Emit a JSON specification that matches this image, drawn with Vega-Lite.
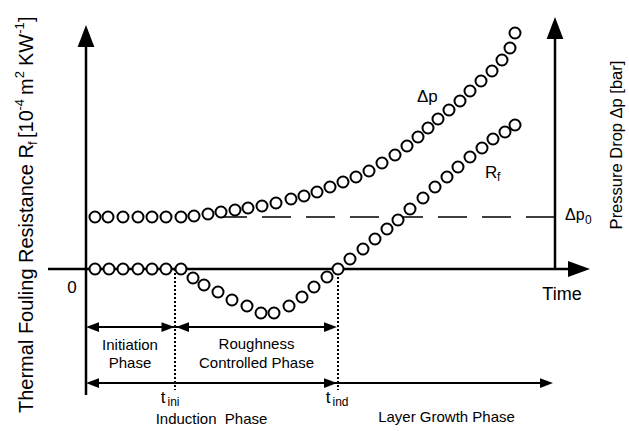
{
  "$schema": "https://vega.github.io/schema/vega-lite/v6.json",
  "width": 629,
  "height": 431,
  "autosize": {"type": "fit", "contains": "padding"},
  "padding": 0,
  "background": "white",
  "config": {"view": {"stroke": null}, "text": {"font": "Liberation Sans", "color": "black"}},
  "datasets": {
    "pts": [
      {"series": "dp", "t": 0.9, "v": 5.2}, {"series": "dp", "t": 2.2, "v": 5.2}, {"series": "dp", "t": 3.7, "v": 5.2},
      {"series": "dp", "t": 5.2, "v": 5.2}, {"series": "dp", "t": 6.6, "v": 5.2}, {"series": "dp", "t": 8.0, "v": 5.2},
      {"series": "dp", "t": 9.5, "v": 5.2}, {"series": "dp", "t": 10.8, "v": 5.3}, {"series": "dp", "t": 12.2, "v": 5.5},
      {"series": "dp", "t": 13.5, "v": 5.7}, {"series": "dp", "t": 14.9, "v": 5.9}, {"series": "dp", "t": 16.2, "v": 6.1},
      {"series": "dp", "t": 17.6, "v": 6.3}, {"series": "dp", "t": 19.0, "v": 6.6}, {"series": "dp", "t": 20.5, "v": 7.0},
      {"series": "dp", "t": 21.8, "v": 7.3}, {"series": "dp", "t": 23.1, "v": 7.7}, {"series": "dp", "t": 24.4, "v": 8.2},
      {"series": "dp", "t": 25.7, "v": 8.7}, {"series": "dp", "t": 27.0, "v": 9.2}, {"series": "dp", "t": 28.3, "v": 9.8},
      {"series": "dp", "t": 29.6, "v": 10.6}, {"series": "dp", "t": 30.9, "v": 11.4}, {"series": "dp", "t": 32.1, "v": 12.3},
      {"series": "dp", "t": 33.2, "v": 13.2}, {"series": "dp", "t": 34.2, "v": 14.1}, {"series": "dp", "t": 35.2, "v": 15.0},
      {"series": "dp", "t": 36.3, "v": 15.9}, {"series": "dp", "t": 37.4, "v": 16.8}, {"series": "dp", "t": 38.4, "v": 17.8},
      {"series": "dp", "t": 39.5, "v": 18.8}, {"series": "dp", "t": 40.6, "v": 19.8}, {"series": "dp", "t": 41.6, "v": 20.9},
      {"series": "dp", "t": 42.4, "v": 22.1}, {"series": "dp", "t": 42.9, "v": 23.6},
      {"series": "rf", "t": 0.9, "v": 0}, {"series": "rf", "t": 2.3, "v": 0}, {"series": "rf", "t": 3.7, "v": 0},
      {"series": "rf", "t": 5.2, "v": 0}, {"series": "rf", "t": 6.6, "v": 0}, {"series": "rf", "t": 8.0, "v": 0},
      {"series": "rf", "t": 9.5, "v": 0}, {"series": "rf", "t": 10.7, "v": -0.9}, {"series": "rf", "t": 11.8, "v": -1.6},
      {"series": "rf", "t": 13.2, "v": -2.3}, {"series": "rf", "t": 14.6, "v": -3.1}, {"series": "rf", "t": 16.1, "v": -3.7},
      {"series": "rf", "t": 17.5, "v": -4.4}, {"series": "rf", "t": 18.8, "v": -4.4}, {"series": "rf", "t": 20.3, "v": -3.7},
      {"series": "rf", "t": 21.6, "v": -2.8}, {"series": "rf", "t": 22.8, "v": -1.8}, {"series": "rf", "t": 24.1, "v": -0.8},
      {"series": "rf", "t": 25.2, "v": 0}, {"series": "rf", "t": 26.4, "v": 1.0}, {"series": "rf", "t": 27.7, "v": 2.0},
      {"series": "rf", "t": 28.9, "v": 3.0}, {"series": "rf", "t": 30.1, "v": 4.0}, {"series": "rf", "t": 31.2, "v": 4.9},
      {"series": "rf", "t": 32.4, "v": 6.0}, {"series": "rf", "t": 33.7, "v": 7.1}, {"series": "rf", "t": 34.9, "v": 8.2},
      {"series": "rf", "t": 36.1, "v": 9.2}, {"series": "rf", "t": 37.2, "v": 10.2}, {"series": "rf", "t": 38.4, "v": 11.2},
      {"series": "rf", "t": 39.6, "v": 12.1}, {"series": "rf", "t": 40.7, "v": 13.0}, {"series": "rf", "t": 41.9, "v": 13.7},
      {"series": "rf", "t": 42.9, "v": 14.4}
    ],
    "segs": [
      {"kind": "axis", "t": 0, "v": -12.6, "t2": 0, "v2": 22.9},
      {"kind": "axis", "t": 46.9, "v": 0, "t2": 46.9, "v2": 23.7},
      {"kind": "axis", "t": -3.8, "v": 0, "t2": 48.9, "v2": 0},
      {"kind": "dashed", "t": 13.2, "v": 5.2, "t2": 46.9, "v2": 5.2},
      {"kind": "dotted", "t": 8.9, "v": 0, "t2": 8.9, "v2": -12.1},
      {"kind": "dotted", "t": 25.2, "v": 0, "t2": 25.2, "v2": -12.1},
      {"kind": "phase", "t": 0.5, "v": -5.8, "t2": 24.6, "v2": -5.8},
      {"kind": "phase", "t": 0.5, "v": -11.4, "t2": 46.2, "v2": -11.4}
    ],
    "heads": [
      {"kind": "axis", "dir": "right", "t": 50.4, "v": 0},
      {"kind": "axis", "dir": "up", "t": 0, "v": 24.4},
      {"kind": "axis", "dir": "up", "t": 46.9, "v": 25.2},
      {"kind": "phase", "dir": "left", "t": 0, "v": -5.8},
      {"kind": "phase", "dir": "right", "t": 8.85, "v": -5.8},
      {"kind": "phase", "dir": "left", "t": 9.0, "v": -5.8},
      {"kind": "phase", "dir": "right", "t": 25.1, "v": -5.8},
      {"kind": "phase", "dir": "left", "t": 0, "v": -11.4},
      {"kind": "phase", "dir": "right", "t": 25.1, "v": -11.4},
      {"kind": "phase", "dir": "right", "t": 46.7, "v": -11.4}
    ],
    "labels": [
      {"role": "main", "text": "0", "t": -1.4, "v": -2.4, "align": "center"},
      {"role": "time", "text": "Time", "t": 47.6, "v": -3.1, "align": "center"},
      {"role": "sym", "text": "Δp", "t": 47.9, "v": 4.9, "align": "left"},
      {"role": "sub", "text": "0", "t": 49.9, "v": 4.5, "align": "left"},
      {"role": "curve", "text": "Δp", "t": 33.1, "v": 16.7, "align": "left"},
      {"role": "curve", "text": "R", "t": 39.9, "v": 9.1, "align": "left"},
      {"role": "sub", "text": "f", "t": 41.1, "v": 8.8, "align": "left"},
      {"role": "main", "text": "t", "t": 7.7, "v": -13.4, "align": "left"},
      {"role": "sub", "text": "ini", "t": 8.15, "v": -13.7, "align": "left"},
      {"role": "main", "text": "t", "t": 24.2, "v": -13.4, "align": "left"},
      {"role": "sub", "text": "ind", "t": 24.65, "v": -13.7, "align": "left"},
      {"role": "phase", "text": "Initiation", "t": 4.4, "v": -8.1, "align": "center"},
      {"role": "phase", "text": "Phase", "t": 4.4, "v": -9.9, "align": "center"},
      {"role": "phase", "text": "Roughness", "t": 17.05, "v": -8.0, "align": "center"},
      {"role": "phase", "text": "Controlled Phase", "t": 17.05, "v": -9.9, "align": "center"},
      {"role": "phase", "text": "Induction\u00a0 Phase", "t": 12.55, "v": -15.5, "align": "center"},
      {"role": "phase", "text": "Layer Growth Phase", "t": 36.05, "v": -15.3, "align": "center"}
    ],
    "titles": [
      {"role": "big", "text": "Thermal Fouling Resistance R", "t": -5.3, "v": -14.4},
      {"role": "small", "text": "f", "t": -4.95, "v": 12.4},
      {"role": "big", "text": "[10", "t": -5.3, "v": 13.1},
      {"role": "small", "text": "-4", "t": -6.2, "v": 15.85},
      {"role": "big", "text": "m", "t": -5.3, "v": 17.4},
      {"role": "small", "text": "2", "t": -6.2, "v": 19.07},
      {"role": "big", "text": "KW", "t": -5.3, "v": 20.3},
      {"role": "small", "text": "-1", "t": -6.2, "v": 23.52},
      {"role": "big", "text": "]", "t": -5.3, "v": 24.7},
      {"role": "right", "text": "Pressure Drop Δp [bar]", "t": 53.6, "v": 12.4}
    ]
  },
  "encoding": {
    "x": {"field": "t", "type": "quantitative", "scale": {"domain": [-8.6, 54.3], "nice": false, "zero": false}, "axis": null},
    "y": {"field": "v", "type": "quantitative", "scale": {"domain": [-16.2, 26.9], "nice": false, "zero": false}, "axis": null}
  },
  "layer": [
    {"data": {"name": "segs"}, "transform": [{"filter": "datum.kind === 'axis'"}],
     "mark": {"type": "rule", "stroke": "black", "strokeWidth": 2.5},
     "encoding": {"x2": {"field": "t2"}, "y2": {"field": "v2"}}},
    {"data": {"name": "segs"}, "transform": [{"filter": "datum.kind === 'dashed'"}],
     "mark": {"type": "rule", "stroke": "black", "strokeWidth": 1.5, "strokeDash": [29, 15]},
     "encoding": {"x2": {"field": "t2"}, "y2": {"field": "v2"}}},
    {"data": {"name": "segs"}, "transform": [{"filter": "datum.kind === 'dotted'"}],
     "mark": {"type": "rule", "stroke": "black", "strokeWidth": 2, "strokeDash": [2, 2]},
     "encoding": {"x2": {"field": "t2"}, "y2": {"field": "v2"}}},
    {"data": {"name": "segs"}, "transform": [{"filter": "datum.kind === 'phase'"}],
     "mark": {"type": "rule", "stroke": "black", "strokeWidth": 2},
     "encoding": {"x2": {"field": "t2"}, "y2": {"field": "v2"}}},
    {"data": {"name": "heads"}, "transform": [{"filter": "datum.kind === 'axis' && datum.dir === 'right'"}],
     "mark": {"type": "point", "shape": "M0,0L-2,-0.72L-2,0.72Z", "size": 484, "filled": true, "fill": "black", "stroke": null, "opacity": 1}},
    {"data": {"name": "heads"}, "transform": [{"filter": "datum.kind === 'axis' && datum.dir === 'up'"}],
     "mark": {"type": "point", "shape": "M0,0L-2,-0.76L-2,0.76Z", "size": 484, "angle": -90, "filled": true, "fill": "black", "stroke": null, "opacity": 1}},
    {"data": {"name": "heads"}, "transform": [{"filter": "datum.kind === 'phase' && datum.dir === 'right'"}],
     "mark": {"type": "point", "shape": "M0,0L-2,-0.75L-2,0.75Z", "size": 169, "filled": true, "fill": "black", "stroke": null, "opacity": 1}},
    {"data": {"name": "heads"}, "transform": [{"filter": "datum.kind === 'phase' && datum.dir === 'left'"}],
     "mark": {"type": "point", "shape": "M0,0L-2,-0.75L-2,0.75Z", "size": 169, "angle": 180, "filled": true, "fill": "black", "stroke": null, "opacity": 1}},
    {"data": {"name": "pts"},
     "mark": {"type": "point", "shape": "circle", "size": 121, "filled": true, "fill": "white", "stroke": "black", "strokeWidth": 2, "opacity": 1}},
    {"data": {"name": "labels"}, "transform": [{"filter": "datum.role === 'main'"}],
     "mark": {"type": "text", "fontSize": 17, "baseline": "alphabetic"},
     "encoding": {"text": {"field": "text"}, "align": {"field": "align", "type": "nominal", "scale": null}}},
    {"data": {"name": "labels"}, "transform": [{"filter": "datum.role === 'time'"}],
     "mark": {"type": "text", "fontSize": 18, "baseline": "alphabetic", "align": "center"},
     "encoding": {"text": {"field": "text"}}},
    {"data": {"name": "labels"}, "transform": [{"filter": "datum.role === 'sym'"}],
     "mark": {"type": "text", "fontSize": 16, "baseline": "alphabetic", "align": "left"},
     "encoding": {"text": {"field": "text"}}},
    {"data": {"name": "labels"}, "transform": [{"filter": "datum.role === 'curve'"}],
     "mark": {"type": "text", "fontSize": 17, "baseline": "alphabetic", "align": "left"},
     "encoding": {"text": {"field": "text"}}},
    {"data": {"name": "labels"}, "transform": [{"filter": "datum.role === 'sub'"}],
     "mark": {"type": "text", "fontSize": 12, "baseline": "alphabetic", "align": "left"},
     "encoding": {"text": {"field": "text"}}},
    {"data": {"name": "labels"}, "transform": [{"filter": "datum.role === 'phase'"}],
     "mark": {"type": "text", "fontSize": 15, "baseline": "alphabetic", "align": "center"},
     "encoding": {"text": {"field": "text"}}},
    {"data": {"name": "titles"}, "transform": [{"filter": "datum.role === 'big'"}],
     "mark": {"type": "text", "fontSize": 20, "angle": 270, "baseline": "alphabetic", "align": "left"},
     "encoding": {"text": {"field": "text"}}},
    {"data": {"name": "titles"}, "transform": [{"filter": "datum.role === 'small'"}],
     "mark": {"type": "text", "fontSize": 13, "angle": 270, "baseline": "alphabetic", "align": "left"},
     "encoding": {"text": {"field": "text"}}},
    {"data": {"name": "titles"}, "transform": [{"filter": "datum.role === 'right'"}],
     "mark": {"type": "text", "fontSize": 16.5, "angle": 270, "baseline": "alphabetic", "align": "center"},
     "encoding": {"text": {"field": "text"}}}
  ]
}
